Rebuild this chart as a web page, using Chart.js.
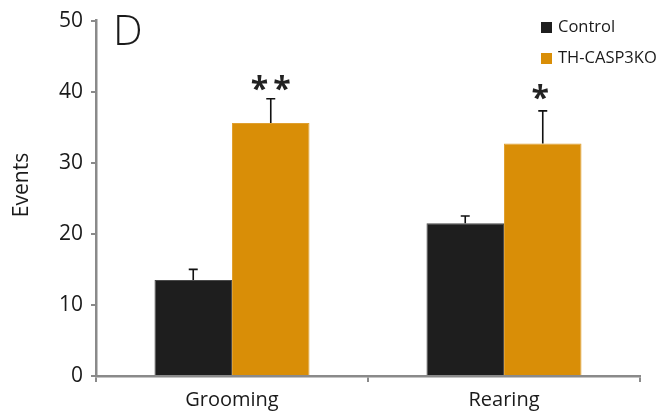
<!DOCTYPE html>
<html>
<head>
<meta charset="utf-8">
<script src="https://cdn.jsdelivr.net/npm/chart.js@4.4.1/dist/chart.umd.min.js"></script>
<style>
  html, body { margin: 0; padding: 0; background: #fff; }
  #wrap { width: 666px; height: 418px; position: relative; }
</style>
</head>
<body>
<div id="wrap"><canvas id="c" width="666" height="418"></canvas></div>
<script>
// Behaviour counts per group
const categories = ['Grooming', 'Rearing'];
const seriesNames = ['Control', 'TH-CASP3KO'];
const controlMean = [13.5, 21.5];
const controlSem = [1.5, 1.0];
const koMean = [35.6, 32.7];
const koSem = [3.4, 4.6];
const significance = ['**', '*'];
const yTicks = [0, 10, 20, 30, 40, 50];
const panelLetter = 'D';
const yTitle = 'Events';

const FONT = '"Open Sans", "DejaVu Sans", sans-serif';
const AXIS_GREY = '#8a8a8a';
const TEXT = '#1a1a1a';
const COLORS = ['#1e1e1e', '#d98e07'];
const BORDERS = ['#4a4a4a', '#e0a030'];

const errorBars = {
  id: 'errorBars',
  afterDatasetsDraw(chart) {
    const ctx = chart.ctx;
    const y = chart.scales.y;
    ctx.save();
    chart.data.datasets.forEach((ds, di) => {
      const meta = chart.getDatasetMeta(di);
      meta.data.forEach((bar, i) => {
        const top = y.getPixelForValue(ds.data[i] + ds.sem[i]);
        const base = y.getPixelForValue(ds.data[i]);
        ctx.strokeStyle = '#111';
        ctx.lineWidth = 1.6;
        ctx.beginPath();
        ctx.moveTo(bar.x, base);
        ctx.lineTo(bar.x, top);
        ctx.moveTo(bar.x - 4.5, top);
        ctx.lineTo(bar.x + 4.5, top);
        ctx.stroke();
        if (ds.stars && ds.stars[i]) {
          ctx.fillStyle = '#222';
          ctx.font = 'bold 32px ' + FONT;
          ctx.textAlign = 'center';
          ctx.textBaseline = 'alphabetic';
          if (ctx.letterSpacing !== undefined) ctx.letterSpacing = '5px';
          const lift = ds.stars[i].length > 1 ? 0 : 3;
          ctx.fillText(ds.stars[i], bar.x + (ds.stars[i].length > 1 ? 2.5 : 0), top + 1 - lift);
          if (ctx.letterSpacing !== undefined) ctx.letterSpacing = '0px';
        }
      });
    });
    ctx.restore();
  }
};

const decorations = {
  id: 'decorations',
  afterDraw(chart) {
    const ctx = chart.ctx;
    ctx.save();
    // panel letter
    ctx.fillStyle = TEXT;
    ctx.font = '300 42px ' + FONT;
    ctx.textAlign = 'left';
    ctx.textBaseline = 'alphabetic';
    ctx.fillText(panelLetter, 113, 45);
    // y axis title
    ctx.save();
    ctx.translate(22, 185);
    ctx.rotate(-Math.PI / 2);
    ctx.font = '21px ' + FONT;
    ctx.textAlign = 'center';
    ctx.textBaseline = 'middle';
    ctx.fillText(yTitle, 0, 0);
    ctx.restore();
    // legend
    ctx.font = '16.5px ' + FONT;
    ctx.textBaseline = 'middle';
    chart.data.datasets.forEach((ds, i) => {
      const cy = 27 + i * 31;
      ctx.fillStyle = ds.backgroundColor;
      ctx.fillRect(541, cy - 5, 11, 11);
      ctx.fillStyle = TEXT;
      ctx.fillText(ds.label, 558, cy);
    });
    ctx.restore();
  }
};

new Chart(document.getElementById('c'), {
  type: 'bar',
  data: {
    labels: categories,
    datasets: [
      { label: seriesNames[0], data: controlMean, sem: controlSem,
        backgroundColor: COLORS[0], borderColor: BORDERS[0], borderWidth: 1 },
      { label: seriesNames[1], data: koMean, sem: koSem, stars: significance,
        backgroundColor: COLORS[1], borderColor: BORDERS[1], borderWidth: 1 }
    ]
  },
  options: {
    responsive: false,
    animation: false,
    devicePixelRatio: 1,
    layout: { padding: { left: 0, right: 26, top: 17, bottom: 0 } },
    datasets: { bar: { categoryPercentage: 0.57, barPercentage: 1.0 } },
    plugins: { legend: { display: false }, tooltip: { enabled: false } },
    scales: {
      x: {
        offset: true,
        grid: { offset: true, drawOnChartArea: false, drawTicks: true, tickLength: 6, color: AXIS_GREY, lineWidth: 2 },
        border: { color: AXIS_GREY, width: 2.5 },
        ticks: { color: TEXT, font: { family: FONT, size: 20 }, padding: 6 },
        afterFit(s) { s.height = 42; }
      },
      y: {
        min: 0, max: 50,
        afterBuildTicks(s) { s.ticks = yTicks.map(v => ({ value: v })); },
        grid: { drawOnChartArea: false, drawTicks: true, tickLength: 5, color: AXIS_GREY, lineWidth: 2 },
        border: { color: AXIS_GREY, width: 2.5 },
        ticks: { color: TEXT, font: { family: FONT, size: 21 }, padding: 8 },
        afterFit(s) { s.width = 96; }
      }
    }
  },
  plugins: [errorBars, decorations]
});
</script>
</body>
</html>
